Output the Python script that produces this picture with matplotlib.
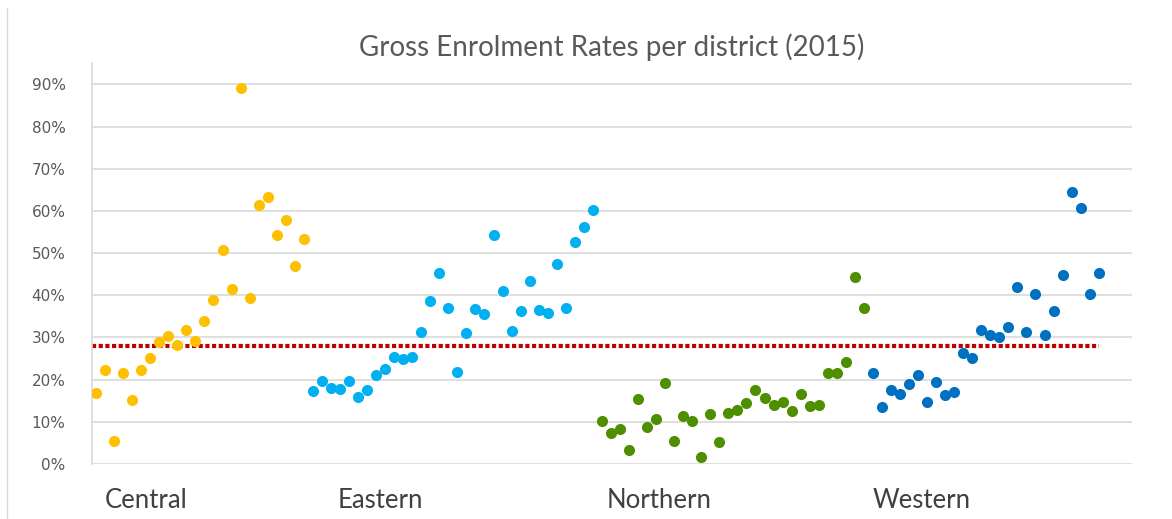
import matplotlib.pyplot as plt
from matplotlib.ticker import FuncFormatter

# Gross enrolment rate (%) per district, grouped by region
central = [16.9, 22.4, 5.4, 21.6, 15.2, 22.3, 25.2, 29.0, 30.3, 28.3, 31.7, 29.1,
           34.0, 38.8, 50.8, 41.5, 89.1, 39.3, 61.3, 63.2, 54.4, 57.9, 46.9, 53.4]
eastern = [17.4, 19.7, 18.0, 17.7, 19.7, 16.0, 17.5, 21.2, 22.5, 25.4, 24.9, 25.3,
           31.3, 38.7, 45.3, 36.9, 21.7, 31.0, 36.8, 35.6, 54.2, 41.1, 31.6, 36.2,
           43.3, 36.4, 35.8, 47.4, 37.1, 52.7, 56.1, 60.2]
northern = [10.1, 7.4, 8.4, 3.3, 15.3, 8.8, 10.7, 19.3, 5.4, 11.4, 10.1, 1.7,
            11.8, 5.3, 12.0, 12.8, 14.5, 17.5, 15.7, 14.0, 14.8, 12.6, 16.6, 13.7,
            14.0, 21.6, 21.6, 24.2, 44.3, 37.0]
western = [21.6, 13.6, 17.5, 16.6, 18.9, 21.1, 14.8, 19.4, 16.4, 17.0, 26.2, 25.2,
           31.8, 30.6, 30.0, 32.4, 41.9, 31.4, 40.4, 30.5, 36.3, 44.9, 64.5, 60.8,
           40.4, 45.4]
national_avg = 28.0

regions = ["Central", "Eastern", "Northern", "Western"]
colors = ["#FFC000", "#00B0F0", "#4E8F00", "#0070C0"]

fig = plt.figure(figsize=(11.72, 5.19), dpi=100)
ax = fig.add_axes([0.0785, 0.106, 0.8875, 0.772])

start = 0
for name, values, color in zip(regions, [central, eastern, northern, western], colors):
    xs = list(range(start, start + len(values)))
    ax.plot(xs, values, "o", color=color, markersize=8, markeredgewidth=0, zorder=3)
    start += len(values)

# national average line
ax.plot([-0.45, start - 1], [national_avg, national_avg], color="#C00000",
        linestyle=(0, (1, 0.6)), linewidth=3, zorder=2)

ax.set_xlim(-0.45, 114.7)
ax.set_ylim(0, 95)
ax.set_yticks(range(0, 91, 10))
ax.yaxis.set_major_formatter(FuncFormatter(lambda v, _: f"{v:.0f}%"))
ax.tick_params(axis="y", length=0, labelsize=11, labelcolor="#595959", pad=19)
ax.set_xticks([])
ax.grid(axis="y", color="#D9D9D9", linewidth=1.2)
ax.set_axisbelow(True)

for side in ["top", "right", "bottom"]:
    ax.spines[side].set_visible(False)
ax.spines["left"].set_color("#D9D9D9")
ax.spines["left"].set_linewidth(1.2)

# region names as text boxes under the plot (figure pixel x positions)
for name, px in zip(regions, [105, 338, 607, 873]):
    fig.text(px / 1172, 1 - 500 / 519, name, fontsize=18.5, color="#404040",
             family="Lato", ha="left", va="center")

ax.set_title("Gross Enrolment Rates per district (2015)", fontsize=20, color="#595959",
             family="Lato", pad=5)

# chart frame edge on the left
fig.add_artist(plt.Line2D([0.006, 0.006], [0.0, 0.985], color="#D9D9D9", linewidth=1))

fig.savefig("out.png", dpi=100)
